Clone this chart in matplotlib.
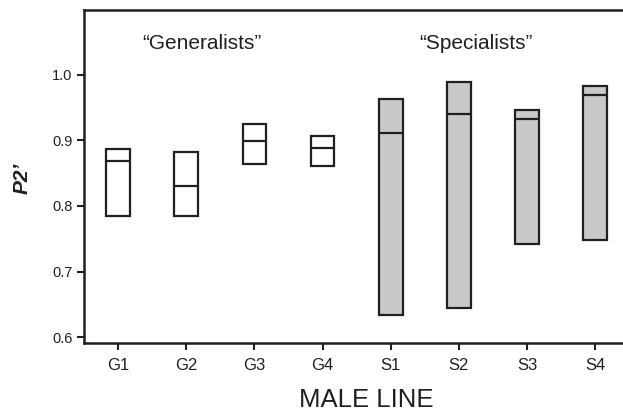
import numpy as np
import matplotlib
matplotlib.use('Agg')
import matplotlib.pyplot as plt

plt.rcParams['font.family'] = ['Liberation Sans', 'DejaVu Sans']

lines = ['G1', 'G2', 'G3', 'G4', 'S1', 'S2', 'S3', 'S4']
low = [0.784, 0.785, 0.864, 0.861, 0.634, 0.645, 0.742, 0.748]
mid = [0.869, 0.830, 0.899, 0.889, 0.911, 0.941, 0.933, 0.969]
high = [0.887, 0.882, 0.925, 0.907, 0.963, 0.989, 0.947, 0.983]
fills = ['white'] * 4 + ['#c8c9cb'] * 4

ink = '#231f20'

fig = plt.figure(figsize=(6.23, 4.12), dpi=100)
ax = fig.add_axes([0.135, 0.1675, 0.865, 0.8082])

x = np.arange(len(lines))
w = 0.35
low = np.array(low)
high = np.array(high)
ax.bar(x, high - low, bottom=low, width=w, color=fills, edgecolor=ink, linewidth=1.6, zorder=2)
ax.hlines(mid, x - w / 2, x + w / 2, color=ink, linewidth=1.6, zorder=3)

ax.set_xlim(-0.5, 7.41)
ax.set_ylim(0.591, 1.099)
ax.set_xticks(x)
ax.set_xticklabels(lines)
ax.set_yticks([0.6, 0.7, 0.8, 0.9, 1.0])
ax.set_yticklabels(['0.6', '0.7', '0.8', '0.9', '1.0'])
ax.tick_params(axis='both', colors=ink, labelcolor=ink, width=1.5, length=5, labelsize=10.5)
ax.tick_params(axis='x', pad=6, labelsize=12)

for s in ['left', 'bottom', 'top']:
    ax.spines[s].set_linewidth(1.8)
    ax.spines[s].set_color(ink)
ax.spines['right'].set_visible(False)

ax.text(1.23, 1.048, '\u201cGeneralists\u201d', ha='center', va='center', fontsize=15, color=ink)
ax.text(5.25, 1.048, '\u201cSpecialists\u201d', ha='center', va='center', fontsize=15, color=ink)

ax.set_xlabel('MALE LINE', fontsize=18.5, color=ink)
ax.xaxis.set_label_coords(0.523, -0.135)
ax.set_ylabel('P2\u2019', fontsize=15, fontweight='bold', fontstyle='italic', color=ink)
ax.yaxis.set_label_coords(-0.097, 0.495)

fig.savefig('out.png', dpi=100)
